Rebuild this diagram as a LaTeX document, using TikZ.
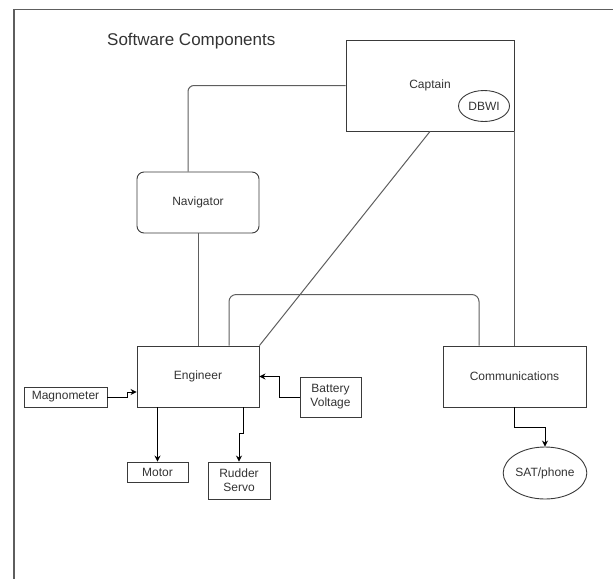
\documentclass[tikz,border=0pt]{standalone}
\usepackage{fontspec}
\setmainfont{Liberation Sans}
\usepackage{xcolor}
\usepackage{tikz}
\usetikzlibrary{arrows.meta,positioning,calc,shapes.geometric}
\definecolor{boxgray}{HTML}{3A3A3A}
\definecolor{linegray}{HTML}{5E5E5E}
\definecolor{txtgray}{HTML}{333333}

\begin{document}
\begin{tikzpicture}[x=1pt,y=-1pt,>={Stealth[length=6pt,width=6pt]},
  every node/.style={font=\fontsize{12}{14}\selectfont,text=txtgray},
  box/.style={draw=boxgray,line width=0.9pt,inner sep=0pt,align=center},
  oval/.style={ellipse,draw=boxgray,line width=0.9pt,inner sep=0pt},
  link/.style={draw=linegray,line width=1pt},
  arr/.style={->,draw=black,line width=0.9pt}]
  \useasboundingbox (0,0) rectangle (613,579);
  \draw[draw=linegray,line width=1.2pt] (613,9.5) -- (14,9.5) -- (14,579);
  \node[anchor=base west,inner sep=0pt,font=\fontsize{17}{20}\selectfont] (title) at (107,45){Software Components};
  \node[box,minimum width=168pt,minimum height=91pt](cap) at (430,85.5){Captain};
  \node[oval,minimum width=51pt,minimum height=31pt](dbwi) at (484,106){DBWI};
  \node[box,rounded corners=7pt,minimum width=122pt,minimum height=61pt](nav) at (198,202.5){Navigator};
  \node[box,minimum width=122pt,minimum height=61pt](eng) at (198,376.5){Engineer};
  \node[box,minimum width=143pt,minimum height=61pt](comm) at (514.5,376.5){Communications};
  \node[box,minimum width=83pt,minimum height=20pt](mag) at (65.5,397){Magnometer};
  \node[box,minimum width=61pt,minimum height=40pt](bat) at (330.5,397){Battery\\Voltage};
  \node[box,minimum width=61pt,minimum height=20pt](motor) at (157.5,472){Motor};
  \node[box,minimum width=62pt,minimum height=37pt](rud) at (239,480.5){Rudder\\Servo};
  \node[oval,minimum width=72pt,minimum height=52pt](sat) at (545,473){SAT/phone};
  \draw[link,rounded corners=6pt] (cap.west) -| ($(nav.north)+(-10,0)$);
  \draw[link] (nav.south) -- (eng.north);
  \draw[link] (cap.south) -- (eng.north east);
  \draw[link] (cap.south east) -- (cap.south east |- comm.north);
  \draw[link,rounded corners=7pt] ($(eng.north)+(31,0)$) -- ++(0,-51) -| ($(comm.north)+(-35.5,0)$);
  \draw[arr] (mag.east) -- ++(20,0) |- ($(eng.west)+(0,15.5)$);
  \draw[arr] (bat.west) -- ++(-20,0) |- (eng.east);
  \draw[arr] (motor.north |- eng.south) -- (motor.north);
  \draw[arr] ($(eng.south)+(45,0)$) -- ++(0,26) -| (rud.north);
  \draw[arr] (comm.south) -- ++(0,20) -| (sat.north);
\end{tikzpicture}
\end{document}
